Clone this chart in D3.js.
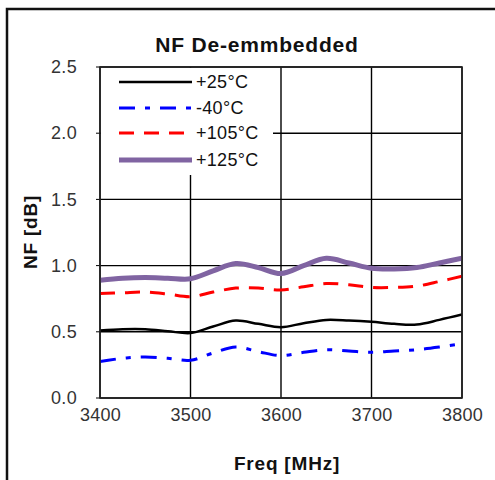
<!DOCTYPE html>
<html><head><meta charset="utf-8">
<script src="https://cdn.jsdelivr.net/npm/d3@7"></script>
<style>body{margin:0;background:#fff}svg{display:block}text{font-family:"Liberation Sans",Arial,sans-serif}</style>
</head><body><svg id="c" width="495" height="480"></svg>
<script>
const freqs = [3400,3425,3450,3475,3500,3525,3550,3575,3600,3625,3650,3675,3700,3725,3750,3775,3800];
const nf25  = [0.51,0.52,0.52,0.505,0.49,0.54,0.585,0.56,0.535,0.565,0.59,0.585,0.575,0.56,0.555,0.59,0.63];
const nfM40 = [0.275,0.30,0.31,0.30,0.285,0.34,0.385,0.35,0.32,0.345,0.365,0.355,0.345,0.355,0.365,0.385,0.41];
const nf105 = [0.79,0.795,0.80,0.785,0.765,0.80,0.83,0.83,0.815,0.84,0.865,0.855,0.835,0.835,0.845,0.88,0.92];
const nf125 = [0.89,0.905,0.91,0.905,0.90,0.96,1.015,0.985,0.94,1.0,1.055,1.02,0.98,0.975,0.985,1.02,1.055];
const xTicks = [3400,3500,3600,3700,3800];
const yTicks = [0,0.5,1.0,1.5,2.0,2.5];
const seriesNames = ["+25°C","-40°C","+105°C","+125°C"];

const series = [
  {name:seriesNames[0], values:nf25,  color:"#000000", width:2.5, dash:null},
  {name:seriesNames[1], values:nfM40, color:"#0000FF", width:3, dash:"16,10,5,10"},
  {name:seriesNames[2], values:nf105, color:"#FF0000", width:3, dash:"15,10"},
  {name:seriesNames[3], values:nf125, color:"#8064A2", width:5, dash:null}
];

const svg = d3.select("#c");
const L=100, R=462, T=67, B=398;
const x = d3.scaleLinear().domain([3400,3800]).range([L,R]);
const y = d3.scaleLinear().domain([0,2.5]).range([B,T]);

// outer frame
svg.append("rect").attr("x",7).attr("y",9).attr("width",500).attr("height",490)
  .attr("fill","none").attr("stroke","#111").attr("stroke-width",2.5);

// title
svg.append("text").attr("x",257).attr("y",52).attr("text-anchor","middle")
  .attr("font-size",21).attr("font-weight","bold").attr("letter-spacing",0.8).attr("fill","#111").text("NF De-emmbedded");

// grid
const g = svg.append("g");
g.selectAll(".hg").data(yTicks).enter().append("line")
  .attr("x1",L).attr("x2",R).attr("y1",d=>y(d)).attr("y2",d=>y(d))
  .attr("stroke","#000").attr("stroke-width",1.4);
g.selectAll(".vg").data(xTicks).enter().append("line")
  .attr("y1",T).attr("y2",B).attr("x1",d=>x(d)).attr("x2",d=>x(d))
  .attr("stroke","#000").attr("stroke-width",1.4);
g.selectAll(".yt").data(yTicks).enter().append("line")
  .attr("x1",L-4).attr("x2",L).attr("y1",d=>y(d)).attr("y2",d=>y(d)).attr("stroke","#000");

// axis labels
const yAxis = d3.axisLeft(y).tickValues(yTicks).tickFormat(d3.format(".1f")).tickSize(0).tickPadding(23);
const ya = svg.append("g").attr("transform",`translate(${L},0)`).call(yAxis);
ya.select(".domain").remove();
ya.selectAll("text").attr("font-size",18).attr("letter-spacing",0.3).attr("fill","#333").attr("font-family","Liberation Sans, Arial, sans-serif");

const xAxis = d3.axisBottom(x).tickValues(xTicks).tickFormat(d3.format("d")).tickSize(0).tickPadding(10);
const xa = svg.append("g").attr("transform",`translate(0,${B})`).call(xAxis);
xa.select(".domain").remove();
xa.selectAll("text").attr("font-size",18).attr("letter-spacing",0.3).attr("fill","#333").attr("font-family","Liberation Sans, Arial, sans-serif");

// axis titles
svg.append("text").attr("transform","translate(37,232) rotate(-90)").attr("text-anchor","middle")
  .attr("font-size",19).attr("font-weight","bold").attr("letter-spacing",0.8).attr("fill","#111").text("NF [dB]");
svg.append("text").attr("x",287).attr("y",470).attr("text-anchor","middle")
  .attr("font-size",19).attr("font-weight","bold").attr("letter-spacing",0.8).attr("fill","#111").text("Freq [MHz]");

// lines
const line = d3.line().x((d,i)=>x(freqs[i])).y(d=>y(d)).curve(d3.curveCatmullRom.alpha(0.5));
svg.append("clipPath").attr("id","clp").append("rect").attr("x",L).attr("y",T).attr("width",R-L).attr("height",B-T);
svg.append("g").attr("clip-path","url(#clp)").selectAll("path").data(series).enter().append("path")
  .attr("d",d=>line(d.values)).attr("fill","none").attr("stroke",d=>d.color)
  .attr("stroke-width",d=>d.width).attr("stroke-dasharray",d=>d.dash).attr("stroke-linejoin","round");

// legend
const lg = svg.append("g");
lg.append("rect").attr("x",L+1).attr("y",T+1).attr("width",172).attr("height",107).attr("fill","#fff");
const rows = [82,108,133,160];
series.forEach((s,i)=>{
  lg.append("line").attr("x1",119).attr("x2",192).attr("y1",rows[i]).attr("y2",rows[i])
    .attr("stroke",s.color).attr("stroke-width",s.width).attr("stroke-dasharray",s.dash);
  lg.append("text").attr("x",196).attr("y",rows[i]).attr("dy","0.36em").attr("font-size",18)
    .attr("letter-spacing",0.3).attr("fill","#111").text(s.name);
});
// plot border
svg.append("rect").attr("x",L).attr("y",T).attr("width",R-L).attr("height",B-T)
  .attr("fill","none").attr("stroke","#222").attr("stroke-width",1.6);
</script></body></html>
